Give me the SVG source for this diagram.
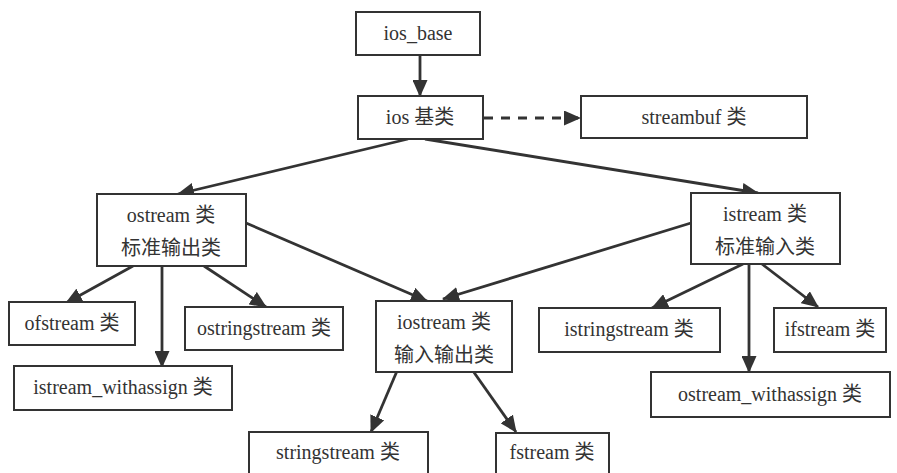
<svg xmlns="http://www.w3.org/2000/svg" width="897" height="473" viewBox="0 0 897 473">
<style>
.box{fill:#fff;stroke:#333;stroke-width:2}
.t{font-family:"Liberation Serif","Noto Sans CJK SC",serif;font-size:20px;fill:#333;text-anchor:middle}
.c{stroke:#333;stroke-width:2.8;fill:none}
.d{stroke-dasharray:9 8}
</style>
<defs>
<marker id="ah" markerUnits="userSpaceOnUse" markerWidth="17" markerHeight="15" refX="16" refY="7.5" orient="auto">
<path d="M0,0 L17,7.5 L0,15 z" fill="#333"/>
</marker>
</defs>
<rect width="897" height="473" fill="#fff"/>
<g id="connectors">
<line class="c" x1="420" y1="55" x2="420" y2="96" marker-end="url(#ah)"/>
<line class="c d" x1="484" y1="118" x2="580" y2="118" marker-end="url(#ah)"/>
<line class="c" x1="408" y1="139" x2="178" y2="194" marker-end="url(#ah)"/>
<line class="c" x1="425" y1="139" x2="758" y2="193" marker-end="url(#ah)"/>
<line class="c" x1="133" y1="266" x2="66" y2="303" marker-end="url(#ah)"/>
<line class="c" x1="162" y1="266" x2="162" y2="367" marker-end="url(#ah)"/>
<line class="c" x1="204" y1="266" x2="266" y2="307" marker-end="url(#ah)"/>
<line class="c" x1="246" y1="223" x2="427" y2="301" marker-end="url(#ah)"/>
<line class="c" x1="691" y1="223" x2="443" y2="299" marker-end="url(#ah)"/>
<line class="c" x1="743" y1="264" x2="652" y2="308" marker-end="url(#ah)"/>
<line class="c" x1="749" y1="264" x2="749" y2="372" marker-end="url(#ah)"/>
<line class="c" x1="762" y1="264" x2="818" y2="307" marker-end="url(#ah)"/>
<line class="c" x1="397" y1="371" x2="371" y2="432" marker-end="url(#ah)"/>
<line class="c" x1="473" y1="371" x2="516" y2="432" marker-end="url(#ah)"/>
</g>
<g id="ios_base"><rect class="box" x="356" y="12" width="124" height="43"/><text class="t" x="418" y="40">ios_base</text></g>
<g id="ios"><rect class="box" x="358" y="96" width="125" height="43"/><text class="t" x="420" y="124">ios 基类</text></g>
<g id="streambuf"><rect class="box" x="581" y="96" width="226" height="42"/><text class="t" x="694" y="124">streambuf 类</text></g>
<g id="ostream"><rect class="box" x="97" y="194" width="149" height="72"/><text class="t" x="171" y="222">ostream 类</text><text class="t" x="171" y="255">标准输出类</text></g>
<g id="istream"><rect class="box" x="691" y="193" width="149" height="71"/><text class="t" x="765" y="221">istream 类</text><text class="t" x="765" y="254">标准输入类</text></g>
<g id="ofstream"><rect class="box" x="9" y="302" width="126" height="43"/><text class="t" x="72" y="330">ofstream 类</text></g>
<g id="ostringstream"><rect class="box" x="185" y="307" width="158" height="43"/><text class="t" x="264" y="335">ostringstream 类</text></g>
<g id="istream_withassign"><rect class="box" x="14" y="366" width="218" height="44"/><text class="t" x="123" y="394">istream_withassign 类</text></g>
<g id="iostream"><rect class="box" x="376" y="301" width="136" height="71"/><text class="t" x="444" y="329">iostream 类</text><text class="t" x="444" y="362">输入输出类</text></g>
<g id="istringstream"><rect class="box" x="539" y="308" width="181" height="44"/><text class="t" x="629" y="336">istringstream 类</text></g>
<g id="ifstream"><rect class="box" x="774" y="308" width="112" height="44"/><text class="t" x="830" y="336">ifstream 类</text></g>
<g id="ostream_withassign"><rect class="box" x="651" y="372" width="239" height="45"/><text class="t" x="770" y="401">ostream_withassign 类</text></g>
<g id="stringstream"><rect class="box" x="249" y="432" width="179" height="50"/><text class="t" x="338" y="459">stringstream 类</text></g>
<g id="fstream"><rect class="box" x="496" y="433" width="113" height="50"/><text class="t" x="552" y="459">fstream 类</text></g>
</svg>
